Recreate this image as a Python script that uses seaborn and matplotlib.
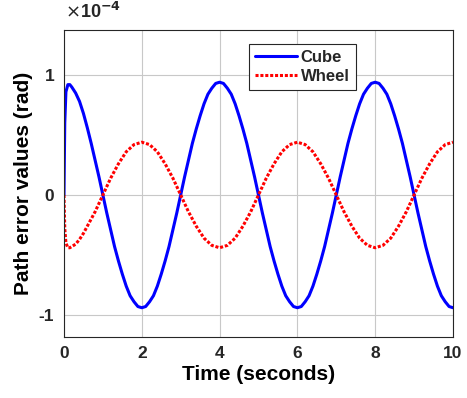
import matplotlib
matplotlib.use("Agg")
import matplotlib.pyplot as plt
import seaborn as sns
import pandas as pd
from matplotlib.lines import Line2D

time_s = [0.0, 0.02, 0.05, 0.1, 0.15,
          0.2, 0.3, 0.4, 0.5, 0.6, 0.7, 0.8, 0.9, 1.0,
          1.1, 1.2, 1.3, 1.4, 1.5, 1.6, 1.7, 1.8, 1.9, 2.0,
          2.1, 2.2, 2.3, 2.4, 2.5, 2.6, 2.7, 2.8, 2.9, 3.0,
          3.1, 3.2, 3.3, 3.4, 3.5, 3.6, 3.7, 3.8, 3.9, 4.0,
          4.1, 4.2, 4.3, 4.4, 4.5, 4.6, 4.7, 4.8, 4.9, 5.0,
          5.1, 5.2, 5.3, 5.4, 5.5, 5.6, 5.7, 5.8, 5.9, 6.0,
          6.1, 6.2, 6.3, 6.4, 6.5, 6.6, 6.7, 6.8, 6.9, 7.0,
          7.1, 7.2, 7.3, 7.4, 7.5, 7.6, 7.7, 7.8, 7.9, 8.0,
          8.1, 8.2, 8.3, 8.4, 8.5, 8.6, 8.7, 8.8, 8.9, 9.0,
          9.1, 9.2, 9.3, 9.4, 9.5, 9.6, 9.7, 9.8, 9.9, 10.0]

# values in units of 1e-4 rad
cube = [0.0, 0.60, 0.86, 0.92, 0.92,
        0.90, 0.85, 0.78, 0.68, 0.56, 0.43, 0.29, 0.15, 0.0,
        -0.15, -0.29, -0.43, -0.55, -0.66, -0.76, -0.84, -0.89, -0.93, -0.94,
        -0.93, -0.89, -0.84, -0.76, -0.66, -0.55, -0.43, -0.29, -0.15, 0.0,
        0.15, 0.29, 0.43, 0.55, 0.66, 0.76, 0.84, 0.89, 0.93, 0.94,
        0.93, 0.89, 0.84, 0.76, 0.66, 0.55, 0.43, 0.29, 0.15, 0.0,
        -0.15, -0.29, -0.43, -0.55, -0.66, -0.76, -0.84, -0.89, -0.93, -0.94,
        -0.93, -0.89, -0.84, -0.76, -0.66, -0.55, -0.43, -0.29, -0.15, 0.0,
        0.15, 0.29, 0.43, 0.55, 0.66, 0.76, 0.84, 0.89, 0.93, 0.94,
        0.93, 0.89, 0.84, 0.76, 0.66, 0.55, 0.43, 0.29, 0.15, 0.0,
        -0.15, -0.29, -0.43, -0.55, -0.66, -0.76, -0.84, -0.89, -0.93, -0.94]

wheel = [0.0, -0.28, -0.40, -0.44, -0.44,
         -0.43, -0.41, -0.37, -0.32, -0.26, -0.20, -0.14, -0.07, 0.0,
         0.07, 0.14, 0.20, 0.26, 0.31, 0.36, 0.39, 0.42, 0.43, 0.44,
         0.43, 0.42, 0.39, 0.36, 0.31, 0.26, 0.20, 0.14, 0.07, 0.0,
         -0.07, -0.14, -0.20, -0.26, -0.31, -0.36, -0.39, -0.42, -0.43, -0.44,
         -0.43, -0.42, -0.39, -0.36, -0.31, -0.26, -0.20, -0.14, -0.07, 0.0,
         0.07, 0.14, 0.20, 0.26, 0.31, 0.36, 0.39, 0.42, 0.43, 0.44,
         0.43, 0.42, 0.39, 0.36, 0.31, 0.26, 0.20, 0.14, 0.07, 0.0,
         -0.07, -0.14, -0.20, -0.26, -0.31, -0.36, -0.39, -0.42, -0.43, -0.44,
         -0.43, -0.42, -0.39, -0.36, -0.31, -0.26, -0.20, -0.14, -0.07, 0.0,
         0.07, 0.14, 0.20, 0.26, 0.31, 0.36, 0.39, 0.42, 0.43, 0.44]

x_ticks = [0, 2, 4, 6, 8, 10]
y_ticks = [-1, 0, 1]
series_names = ["Cube", "Wheel"]

sns.set_theme(style="white")
plt.rcParams['font.family'] = ['Liberation Sans', 'DejaVu Sans']

df = pd.DataFrame({
    "Time": time_s * 2,
    "Value": [v * 1e-4 for v in cube] + [v * 1e-4 for v in wheel],
    "Series": [series_names[0]] * len(time_s) + [series_names[1]] * len(time_s),
})

fig = plt.figure(figsize=(4.67, 3.98), dpi=100)
ax = fig.add_axes([0.137, 0.1545, 0.833, 0.770])

sns.lineplot(data=df, x="Time", y="Value", hue="Series",
             palette={"Cube": "#0000ff", "Wheel": "#ff0000"},
             linewidth=2.2, ax=ax, legend=False, sort=False)

lines = ax.get_lines()
lines[0].set_linestyle("-")
lines[1].set_linestyle((0, (1, 0.6)))
for ln in lines:
    ln.set_solid_joinstyle("round")
    ln.set_dash_joinstyle("round")

ax.set_xlim(0, 10)
ax.set_ylim(-1.18e-4, 1.375e-4)
ax.set_xticks(x_ticks)
ax.set_xticklabels([str(t) for t in x_ticks])
ax.set_yticks([t * 1e-4 for t in y_ticks])
ax.set_yticklabels([str(t) for t in y_ticks])
ax.tick_params(direction="in", length=4, labelsize=12.5, colors="#262626",
               width=0.8, pad=7)
for lab in ax.get_xticklabels() + ax.get_yticklabels():
    lab.set_fontweight("bold")
ax.grid(True, color="#c8c8c8", linewidth=0.8)
for sp in ax.spines.values():
    sp.set_color("#262626")
    sp.set_linewidth(0.8)

ax.set_xlabel("Time (seconds)", fontsize=15, fontweight="bold", color="black", labelpad=3)
ax.set_ylabel("Path error values (rad)", fontsize=15, fontweight="bold", color="black", labelpad=4)

fig.text(0.139, 0.945, r"$\times$10$^{\mathbf{-4}}$", fontsize=13, fontweight="bold",
         color="#262626", ha="left", va="bottom")

handles = [Line2D([], [], color="#0000ff", linewidth=2.2, linestyle="-"),
           Line2D([], [], color="#ff0000", linewidth=2.2, linestyle=(0, (1, 0.6)))]
leg = ax.legend(handles, series_names, loc="upper left", bbox_to_anchor=(0.476, 0.954),
                frameon=True, fancybox=False, edgecolor="#262626", framealpha=1,
                prop={"weight": "bold", "size": 12}, handlelength=2.5,
                borderpad=0.35, labelspacing=0.25, handletextpad=0.25, borderaxespad=0)
leg.get_frame().set_linewidth(0.8)

fig.savefig("out.png", dpi=100)
